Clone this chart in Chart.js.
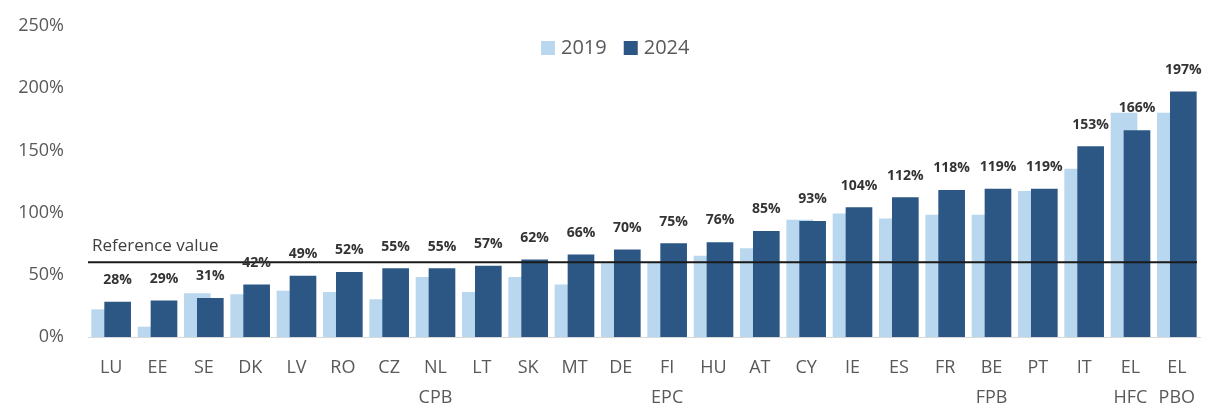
<!DOCTYPE html>
<html lang="en">
<head>
  <meta charset="UTF-8">
  <title>Debt ratio 2019 vs 2024</title>
  <script src="https://cdn.jsdelivr.net/npm/chart.js"></script>
  <style>
    html, body { margin: 0; padding: 0; background: #fff; }
    #wrap { position: relative; width: 1208px; height: 418px; }
  </style>
</head>
<body>
  <div id="wrap"><canvas id="chart"></canvas></div>
  <script>
    // categories (second line = institution where shown)
    const categories = [
      ['LU'], ['EE'], ['SE'], ['DK'], ['LV'], ['RO'], ['CZ'], ['NL', 'CPB'],
      ['LT'], ['SK'], ['MT'], ['DE'], ['FI', 'EPC'], ['HU'], ['AT'], ['CY'],
      ['IE'], ['ES'], ['FR'], ['BE', 'FPB'], ['PT'], ['IT'], ['EL', 'HFC'], ['EL', 'PBO']
    ];
    const values2019 = [22, 8, 35, 34, 37, 36, 30, 48, 36, 48, 42, 59, 60, 65, 71, 94, 99, 95, 98, 98, 117, 135, 180, 180];
    const values2024 = [28, 29, 31, 42, 49, 52, 55, 55, 57, 62, 66, 70, 75, 76, 85, 93, 104, 112, 118, 119, 119, 153, 166, 197];
    const yTicks = [0, 50, 100, 150, 200, 250];
    const referenceValue = 60;

    const LIGHT = '#b9d7ee';
    const DARK = '#2c5785';
    const TEXT = '#595959';
    const FONT = '"Open Sans", Lato, sans-serif';

    // the two bars of a pair overlap by half: each hidden axis is shifted
    // by a quarter of a bar width (in category units)
    const SHIFT = 0.14;
    const BAR_W = 26;
    const n = categories.length;

    // labels above the 2024 bars, reference line and legend
    const extras = {
      id: 'extras',
      afterDatasetsDraw(chart) {
        const ctx = chart.ctx;
        const area = chart.chartArea;
        const y = chart.scales.y.getPixelForValue(referenceValue);

        ctx.save();
        ctx.strokeStyle = '#1a1a1a';
        ctx.lineWidth = 2;
        ctx.beginPath();
        ctx.moveTo(area.left, y);
        ctx.lineTo(area.right - 3, y);
        ctx.stroke();

        ctx.fillStyle = '#404040';
        ctx.font = '17px ' + FONT;
        ctx.textAlign = 'left';
        ctx.textBaseline = 'alphabetic';
        ctx.fillText('Reference value', area.left + 4, y - 11);

        // value labels
        const meta = chart.getDatasetMeta(1);
        ctx.font = 'bold 14px ' + FONT;
        ctx.fillStyle = '#333';
        ctx.textAlign = 'center';
        ctx.textBaseline = 'middle';
        meta.data.forEach((bar, i) => {
          ctx.fillText(values2024[i] + '%', bar.x, bar.y - 22);
        });

        // legend
        const items = [[LIGHT, '2019'], [DARK, '2024']];
        ctx.font = '20px ' + FONT;
        ctx.textBaseline = 'middle';
        ctx.textAlign = 'left';
        let x = 541;
        const ly = 48;
        items.forEach(([c, t]) => {
          ctx.fillStyle = c;
          ctx.fillRect(x, ly - 7, 14, 14);
          ctx.fillStyle = TEXT;
          ctx.fillText(t, x + 20, ly);
          x += 20 + ctx.measureText(t).width + 17;
        });
        ctx.restore();
      }
    };

    new Chart(document.getElementById('chart'), {
      type: 'bar',
      data: {
        labels: categories,
        datasets: [
          {
            label: '2019', backgroundColor: LIGHT, xAxisID: 'xa', order: 1,
            data: values2019.map((v, i) => ({ x: i, y: v }))
          },
          {
            label: '2024', backgroundColor: DARK, xAxisID: 'xb', order: 0,
            data: values2024.map((v, i) => ({ x: i, y: v }))
          }
        ]
      },
      options: {
        responsive: true,
        maintainAspectRatio: false,
        animation: false,
        grouped: false,
        barThickness: BAR_W,
        layout: { padding: { top: 26, right: 8, left: 0, bottom: 6 } },
        plugins: {
          legend: { display: false },
          tooltip: { enabled: false }
        },
        scales: {
          x: {
            type: 'category',
            offset: true,
            grid: { display: false },
            border: { color: '#d9d9d9', width: 1 },
            ticks: {
              color: TEXT,
              font: { family: FONT, size: 18, lineHeight: 1.644 },
              padding: 8,
              autoSkip: false,
              maxRotation: 0
            },
            afterFit(scale) { scale.height = 75; }
          },
          xa: {
            type: 'linear', display: false, offset: false,
            min: -0.5 + SHIFT, max: n - 0.5 + SHIFT
          },
          xb: {
            type: 'linear', display: false, offset: false,
            min: -0.5 - SHIFT, max: n - 0.5 - SHIFT
          },
          y: {
            min: 0,
            max: 250,
            grid: { display: false, drawTicks: false },
            border: { display: false },
            afterBuildTicks(scale) { scale.ticks = yTicks.map(v => ({ value: v })); },
            ticks: {
              color: TEXT,
              font: { family: FONT, size: 18 },
              padding: 24,
              callback: v => v + '%'
            },
            afterFit(scale) {
              scale.width = 88;
              scale.paddingTop = 0;
              scale.paddingBottom = 0;
            }
          }
        }
      },
      plugins: [extras]
    });
  </script>
</body>
</html>
